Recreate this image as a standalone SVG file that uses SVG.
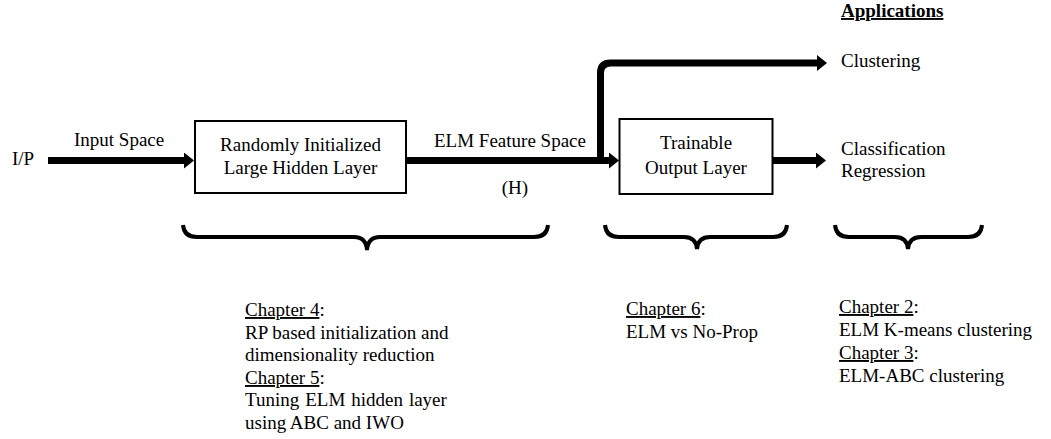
<svg xmlns="http://www.w3.org/2000/svg" width="1051" height="439" viewBox="0 0 1051 439">
<style>
  text { font-family: "Liberation Serif", "Times New Roman", serif; font-size: 19px; fill: #000; }
  .c { text-anchor: middle; }
  .b { font-weight: bold; text-decoration: underline; }
  .u { text-decoration: underline; }
  .box { fill: #fff; stroke: #000; stroke-width: 2; }
  .arrow { fill: none; stroke: #000; stroke-width: 7; marker-end: url(#head); }
  .brace { fill: none; stroke: #000; stroke-width: 4; }
</style>
<defs>
  <marker id="head" markerUnits="userSpaceOnUse" markerWidth="10" markerHeight="16" refX="0" refY="8" orient="auto">
    <path d="M0,0 L10,8 L0,16 Z" fill="#000"/>
  </marker>
</defs>
<rect width="1051" height="439" fill="#fff"/>

<g id="connectors">
  <path class="arrow" d="M48,160.5 H184"/>
  <path class="arrow" d="M406,160.5 H609"/>
  <path class="arrow" d="M600.5,160 V73 Q600.5,63 610.5,63 H817"/>
  <path class="arrow" d="M772,160.5 H816"/>
</g>

<g id="input">
  <text x="12" y="165">I/P</text>
  <text x="74" y="146">Input Space</text>
</g>

<g id="hidden-layer">
  <rect class="box" x="195" y="121" width="211" height="72"/>
  <text class="c" x="300.5" y="151">Randomly Initialized</text>
  <text class="c" x="300.5" y="174">Large Hidden Layer</text>
</g>

<g id="feature-space">
  <text x="434" y="147">ELM Feature Space</text>
  <text class="c" x="515" y="194">(H)</text>
</g>

<g id="output-layer">
  <rect class="box" x="619.5" y="119" width="153" height="75"/>
  <text class="c" x="696" y="149">Trainable</text>
  <text class="c" x="696" y="174">Output Layer</text>
</g>

<g id="applications">
  <text class="b" x="841" y="17">Applications</text>
  <text x="841" y="67">Clustering</text>
  <text x="841" y="155">Classification</text>
  <text x="841" y="177">Regression</text>
</g>

<g id="braces">
  <path class="brace" d="M183,225 Q184,237 197,237 H354 Q366,237 367,250 Q368,237 380,237 H534 Q547,237 548,225"/>
  <path class="brace" d="M605,225 Q606,237 619,237 H684 Q696,237 697,249 Q698,237 710,237 H773 Q786,237 787,225"/>
  <path class="brace" d="M835,225 Q836,237 849,237 H895 Q907,237 908,249 Q909,237 921,237 H968 Q981,237 982,225"/>
</g>

<g id="notes-hidden">
  <text x="245" y="316"><tspan class="u">Chapter 4</tspan>:</text>
  <text x="245" y="339">RP based initialization and</text>
  <text x="245" y="361">dimensionality reduction</text>
  <text x="245" y="384"><tspan class="u">Chapter 5</tspan>:</text>
  <text x="245" y="406" word-spacing="1.2">Tuning ELM hidden layer</text>
  <text x="245" y="429">using ABC and IWO</text>
</g>

<g id="notes-output">
  <text x="626" y="315"><tspan class="u">Chapter 6</tspan>:</text>
  <text x="626" y="338">ELM vs No-Prop</text>
</g>

<g id="notes-applications">
  <text x="839" y="313"><tspan class="u">Chapter 2</tspan>:</text>
  <text x="839" y="336">ELM K-means clustering</text>
  <text x="839" y="359"><tspan class="u">Chapter 3</tspan>:</text>
  <text x="839" y="382">ELM-ABC clustering</text>
</g>
</svg>
